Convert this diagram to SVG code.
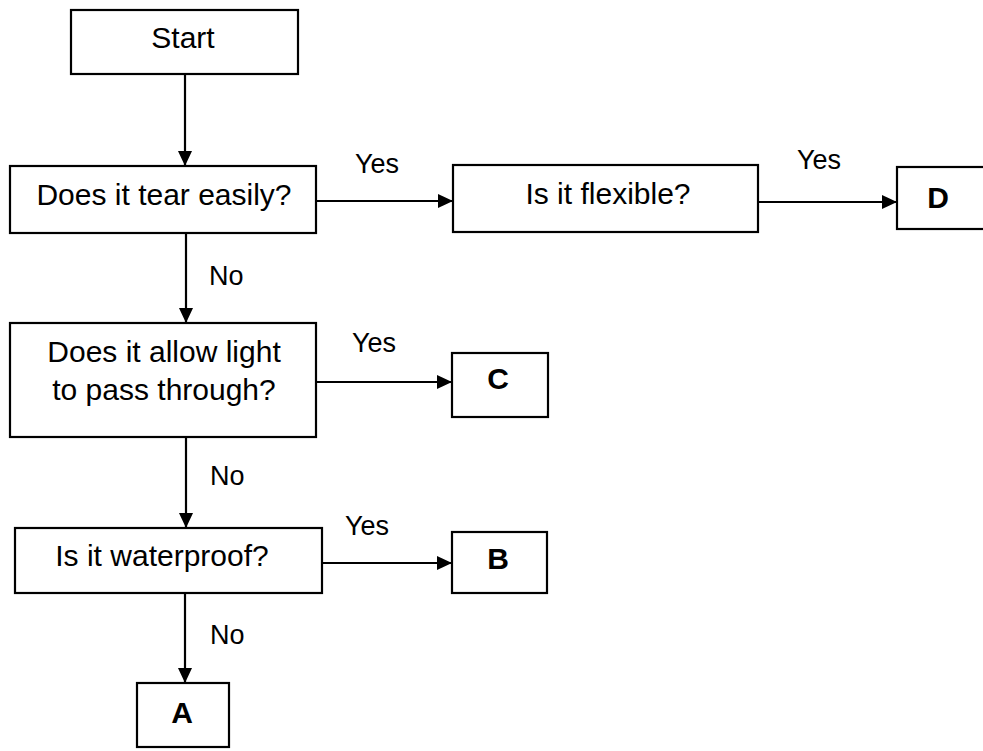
<svg xmlns="http://www.w3.org/2000/svg" width="983" height="751" viewBox="0 0 983 751">
<defs>
<marker id="ah" markerUnits="userSpaceOnUse" markerWidth="16" markerHeight="14" refX="15" refY="7" orient="auto">
<path d="M0,0 L15,7 L0,14 z" fill="#000"/>
</marker>
</defs>
<style>
rect{fill:#fff;stroke:#000;stroke-width:2.2}
.c{stroke:#000;stroke-width:2.2;fill:none;marker-end:url(#ah)}
text{font-family:"Liberation Sans",Arial,sans-serif;fill:#000}
.t{font-size:30px;text-anchor:middle}
.b{font-size:30px;font-weight:bold;text-anchor:middle}
.l{font-size:27px}
</style>
<rect x="0" y="0" width="983" height="751" style="stroke:none"/>
<g id="start"><rect x="71" y="10" width="227" height="64"/><text class="t" x="183" y="48">Start</text></g>
<g id="tear"><rect x="10" y="166" width="306" height="67"/><text class="t" x="164" y="205">Does it tear easily?</text></g>
<g id="flexible"><rect x="453" y="165" width="305" height="67"/><text class="t" x="608" y="204">Is it flexible?</text></g>
<g id="D"><rect x="897" y="167" width="95" height="62"/><text class="b" x="938" y="208">D</text></g>
<g id="light"><rect x="10" y="323" width="306" height="114"/><text class="t" x="164" y="362">Does it allow light</text><text class="t" x="164" y="400">to pass through?</text></g>
<g id="C"><rect x="452" y="353" width="96" height="64"/><text class="b" x="498" y="389">C</text></g>
<g id="waterproof"><rect x="15" y="528" width="307" height="65"/><text class="t" x="162" y="566">Is it waterproof?</text></g>
<g id="B"><rect x="452" y="532" width="95" height="61"/><text class="b" x="498" y="569">B</text></g>
<g id="A"><rect x="137" y="683" width="92" height="64"/><text class="b" x="182" y="723">A</text></g>
<g id="connectors">
<line class="c" x1="185" y1="74" x2="185" y2="166"/>
<line class="c" x1="316" y1="201" x2="453" y2="201"/>
<line class="c" x1="758" y1="202" x2="897" y2="202"/>
<line class="c" x1="186" y1="233" x2="186" y2="323"/>
<line class="c" x1="316" y1="382" x2="452" y2="382"/>
<line class="c" x1="186" y1="437" x2="186" y2="528"/>
<line class="c" x1="322" y1="563" x2="452" y2="563"/>
<line class="c" x1="185" y1="593" x2="185" y2="683"/>
<text class="l" x="355" y="173">Yes</text>
<text class="l" x="797" y="169">Yes</text>
<text class="l" x="209" y="285">No</text>
<text class="l" x="352" y="352">Yes</text>
<text class="l" x="210" y="485">No</text>
<text class="l" x="345" y="535">Yes</text>
<text class="l" x="210" y="644">No</text>
</g>
</svg>
